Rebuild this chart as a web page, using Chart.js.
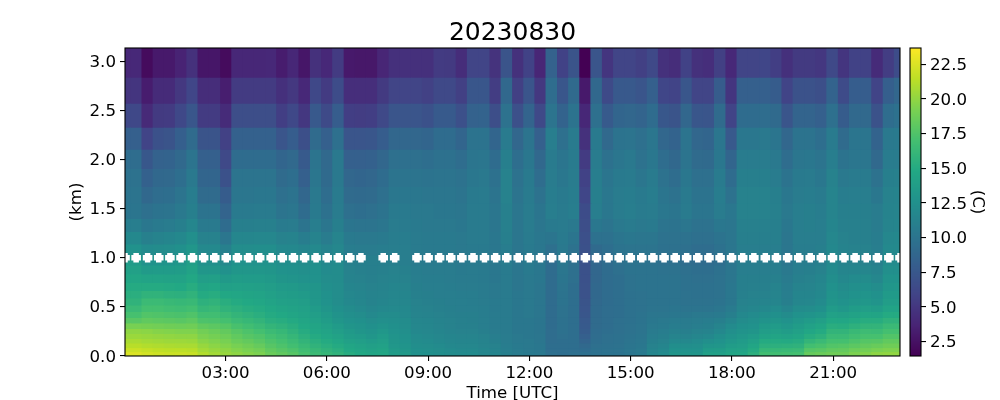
<!DOCTYPE html>
<html>
<head>
<meta charset="utf-8">
<script src="https://cdn.jsdelivr.net/npm/chart.js@4"></script>
<style>
body { margin: 0; background: #fff; }
canvas { display: block; }
</style>
</head>
<body>
<canvas id="myChart" width="1000" height="400"></canvas>
<script>
// time of each profile, hours UTC
const times = [
0.02,0.35,0.69,1.02,1.35,1.68,2.02,2.35,2.68,3.02,
3.35,3.68,4.01,4.35,4.68,5.01,5.34,5.68,6.01,6.34,
6.68,7.01,7.34,7.67,8.01,8.34,8.67,9.00,9.34,9.67,
10.00,10.33,10.67,11.00,11.33,11.67,12.00,12.33,12.66,13.00,
13.33,13.66,13.99,14.33,14.66,14.99,15.33,15.66,15.99,16.32,
16.66,16.99,17.32,17.65,17.99,18.32,18.65,18.99,19.32,19.65,
19.98,20.32,20.65,20.98,21.32,21.65,21.98,22.31,22.65,22.98];

// top edge of each height bin, km
const rowTops = [0.04,0.08,0.127,0.173,0.224,0.275,0.331,0.387,0.448,0.514,0.585,0.661,0.743,0.829,0.921,1.022,1.134,1.261,1.394,1.553,1.719,1.902,2.099,2.322,2.566,2.831,3.134];

// temperature (C), one array per height bin, lowest first
const row00 = [
22.5,22.5,22.2,22.0,21.9,21.9,21.8,21.1,20.6,20.2,
19.9,19.6,19.3,18.6,18.2,17.8,17.1,16.5,16.1,15.8,
15.2,14.8,14.5,14.6,13.6,13.3,12.6,12.5,12.3,12.1,
12.0,12.0,11.7,11.5,11.0,10.7,10.5,10.4,9.6,9.5,
9.6,9.6,9.8,9.9,9.9,10.2,10.5,11.6,12.0,13.0,
13.0,13.0,14.0,14.0,14.5,14.6,15.5,16.8,16.8,16.9,
17.0,18.4,18.6,18.8,18.8,19.3,19.5,19.9,20.0,20.0];
const row01 = [
21.9,21.9,21.7,21.5,21.4,21.4,21.3,20.6,20.2,19.9,
19.5,19.2,18.9,18.2,17.8,17.4,16.7,16.2,15.8,15.4,
14.8,14.5,14.2,14.4,13.4,13.1,12.5,12.4,12.2,12.0,
11.9,11.9,11.6,11.3,10.9,10.6,10.4,10.3,9.5,9.5,
9.5,9.3,9.7,9.8,9.9,10.2,10.4,11.4,11.8,12.7,
12.7,12.7,13.5,13.6,14.1,14.2,15.0,16.2,16.2,16.3,
16.4,17.7,17.9,18.2,18.3,18.7,18.9,19.2,19.4,19.4];
const row02 = [
21.3,21.3,21.1,21.0,20.9,20.8,20.8,20.2,19.8,19.5,
19.1,18.8,18.4,17.8,17.4,16.9,16.3,15.8,15.4,15.0,
14.5,14.2,13.9,14.1,13.2,12.9,12.3,12.2,12.0,11.8,
11.7,11.7,11.4,11.2,10.8,10.5,10.4,10.3,9.5,9.5,
9.5,9.0,9.6,9.7,9.8,10.1,10.3,11.2,11.5,12.3,
12.3,12.4,13.0,13.1,13.6,13.8,14.5,15.5,15.5,15.6,
15.7,16.9,17.2,17.6,17.7,18.0,18.3,18.5,18.8,18.8];
const row03 = [
20.8,20.8,20.6,20.5,20.4,20.4,20.3,19.7,19.4,19.1,
18.6,18.3,17.9,17.4,17.0,16.5,15.9,15.4,15.0,14.6,
14.0,13.8,13.5,13.8,13.0,12.7,12.1,12.0,11.8,11.6,
11.5,11.5,11.3,11.0,10.7,10.4,10.4,10.2,9.4,9.5,
9.5,8.6,9.5,9.6,9.7,10.0,10.2,11.0,11.2,11.8,
11.8,12.0,12.4,12.7,13.2,13.5,14.0,15.0,15.0,14.9,
15.1,16.0,16.4,17.0,17.0,17.4,17.7,17.8,18.2,18.2];
const row04 = [
20.3,20.3,20.2,20.1,20.0,19.9,19.9,19.3,19.0,18.7,
18.2,17.8,17.5,17.0,16.6,16.1,15.5,15.0,14.6,14.2,
13.6,13.4,13.1,13.5,12.9,12.6,12.0,11.9,11.7,11.5,
11.4,11.4,11.2,10.9,10.7,10.4,10.3,10.2,9.4,9.6,
9.5,8.2,9.4,9.6,9.7,9.9,10.1,10.8,11.0,11.4,
11.3,11.6,11.8,12.3,12.8,13.2,13.5,14.2,14.4,14.2,
14.5,15.2,15.6,16.4,16.4,16.8,17.1,17.1,17.6,17.6];
const row05 = [
19.9,19.9,19.8,19.6,19.5,19.4,19.4,18.9,18.6,18.3,
17.8,17.4,17.0,16.5,16.2,15.7,15.1,14.6,14.3,13.8,
13.3,13.0,12.8,13.2,12.7,12.4,11.8,11.7,11.5,11.3,
11.2,11.2,11.0,10.7,10.6,10.3,10.3,10.1,9.4,9.7,
9.5,7.9,9.3,9.5,9.6,9.8,10.0,10.6,10.8,11.1,
11.0,11.2,11.3,11.8,12.4,12.8,13.0,13.7,13.9,13.6,
14.0,14.6,15.0,15.9,15.9,16.3,16.6,16.5,17.0,17.0];
const row06 = [
19.1,19.1,19.0,18.9,18.8,18.7,18.8,18.2,18.0,17.7,
17.2,16.8,16.4,16.0,15.7,15.3,14.8,14.4,14.0,13.5,
13.0,12.8,12.5,12.8,12.5,12.2,11.7,11.6,11.4,11.2,
11.1,11.1,10.9,10.6,10.6,10.3,10.3,10.1,9.3,9.7,
9.5,7.7,9.2,9.4,9.6,9.8,10.0,10.4,10.5,10.8,
10.7,10.9,11.0,11.4,12.0,12.5,12.7,13.3,13.5,13.2,
13.6,14.1,14.5,15.3,15.2,15.6,15.9,15.9,16.4,16.4];
const row07 = [
17.9,17.9,18.2,18.1,18.0,17.9,18.1,17.4,17.3,17.0,
16.5,16.2,15.9,15.4,15.2,14.9,14.5,14.1,13.6,13.1,
12.7,12.5,12.2,12.4,12.3,12.1,11.6,11.5,11.3,11.2,
11.1,11.0,10.9,10.6,10.6,10.3,10.3,10.1,9.3,9.7,
9.5,7.6,9.2,9.4,9.6,9.7,9.9,10.3,10.4,10.6,
10.6,10.7,10.8,11.0,11.5,12.1,12.4,12.8,13.0,12.7,
13.2,13.5,13.9,14.7,14.6,14.9,15.2,15.2,15.7,15.7];
const row08 = [
17.1,17.1,17.6,17.5,17.4,17.3,17.5,16.8,16.8,16.4,
16.0,15.7,15.4,15.0,14.8,14.5,14.2,13.8,13.3,12.8,
12.4,12.2,11.9,12.1,12.1,11.9,11.4,11.3,11.2,11.1,
11.0,11.0,10.8,10.6,10.6,10.3,10.4,10.2,9.3,9.8,
9.5,7.4,9.1,9.4,9.5,9.7,9.9,10.2,10.2,10.3,
10.3,10.4,10.4,10.5,11.0,11.8,12.0,12.3,12.5,12.1,
12.7,12.9,13.2,14.1,13.9,14.2,14.5,14.4,15.0,15.0];
const row09 = [
16.4,16.4,17.0,17.0,16.8,16.7,16.9,16.1,16.3,15.8,
15.5,15.2,15.0,14.7,14.4,14.2,14.0,13.5,13.0,12.5,
12.1,11.9,11.6,11.8,11.9,11.8,11.3,11.2,11.1,11.0,
10.9,10.9,10.8,10.5,10.6,10.3,10.4,10.2,9.3,9.8,
9.5,7.3,9.1,9.4,9.5,9.7,9.8,10.0,10.0,10.1,
10.0,10.0,10.0,10.2,10.6,11.4,11.6,11.8,12.0,11.5,
12.1,12.2,12.5,13.5,13.2,13.6,13.8,13.6,14.3,14.3];
const row10 = [
15.8,15.8,16.5,16.5,16.3,16.2,16.3,15.6,15.8,15.3,
15.0,14.8,14.6,14.3,14.0,13.9,13.7,13.2,12.7,12.2,
11.8,11.6,11.3,11.5,11.7,11.6,11.2,11.1,11.0,10.9,
10.9,10.8,10.7,10.5,10.6,10.3,10.4,10.2,9.3,9.9,
9.5,7.2,9.0,9.3,9.5,9.7,9.8,9.9,9.9,9.9,
9.8,9.8,9.8,9.9,10.3,11.2,11.3,11.4,11.5,11.0,
11.6,11.7,12.0,13.0,12.7,13.0,13.2,12.9,13.7,13.7];
const row11 = [
15.4,15.4,15.8,15.8,15.6,15.5,15.8,15.0,15.2,14.7,
14.6,14.4,14.3,14.0,13.7,13.6,13.4,13.1,12.6,12.2,
11.7,11.5,11.3,11.4,11.6,11.5,11.1,11.0,10.9,10.9,
10.8,10.8,10.6,10.4,10.6,10.3,10.4,10.2,9.3,9.9,
9.5,7.1,8.9,9.3,9.5,9.7,9.8,9.9,9.9,9.9,
9.8,9.7,9.7,9.8,10.3,11.1,11.2,11.2,11.4,10.9,
11.5,11.5,11.8,12.8,12.4,12.7,12.9,12.6,13.4,13.4];
const row12 = [
15.0,15.0,15.0,15.0,14.9,14.8,15.2,14.4,14.6,14.0,
14.1,14.0,13.9,13.7,13.4,13.3,13.1,13.0,12.4,12.2,
11.5,11.4,11.2,11.3,11.5,11.4,11.0,10.9,10.9,10.8,
10.7,10.7,10.6,10.4,10.6,10.2,10.4,10.2,9.3,10.0,
9.5,7.1,8.9,9.3,9.5,9.8,9.9,9.9,9.9,9.9,
9.7,9.7,9.7,9.8,10.3,11.0,11.1,11.1,11.3,10.8,
11.3,11.4,11.7,12.6,12.1,12.4,12.5,12.2,13.1,13.2];
const row13 = [
14.5,14.5,14.3,14.3,14.2,14.2,14.7,13.8,13.9,13.3,
13.6,13.5,13.5,13.3,13.0,12.9,12.7,12.7,12.2,12.1,
11.3,11.2,11.1,11.2,11.3,11.2,10.9,10.8,10.8,10.7,
10.6,10.6,10.5,10.3,10.6,10.2,10.4,10.3,9.3,10.1,
9.6,7.0,8.8,9.3,9.5,9.8,9.9,9.9,9.9,9.9,
9.7,9.6,9.6,9.8,10.2,11.0,11.0,11.0,11.1,10.6,
11.1,11.2,11.5,12.3,11.8,12.0,12.1,11.7,12.8,12.8];
const row14 = [
14.0,14.0,13.4,13.5,13.5,13.6,14.2,13.1,13.1,12.6,
13.1,13.1,13.1,13.0,12.7,12.6,12.4,12.6,12.0,12.1,
11.2,11.1,11.0,11.1,11.2,11.1,10.8,10.7,10.7,10.7,
10.5,10.6,10.5,10.3,10.6,10.2,10.5,10.3,9.3,10.2,
9.6,7.0,8.8,9.3,9.6,9.9,9.9,9.9,9.8,9.8,
9.6,9.5,9.5,9.7,10.2,10.9,10.9,10.9,10.9,10.4,
10.9,11.0,11.2,12.0,11.5,11.5,11.6,11.3,12.4,12.4];
const row15 = [
13.5,13.5,12.7,12.8,12.9,13.1,13.8,12.6,12.5,11.9,
12.7,12.7,12.7,12.7,12.3,12.3,12.1,12.4,11.8,12.0,
11.1,11.0,11.0,11.0,11.0,10.9,10.6,10.5,10.6,10.6,
10.4,10.5,10.5,10.3,10.7,10.2,10.5,10.3,9.3,10.3,
9.6,7.0,8.8,9.3,9.7,9.9,9.9,9.8,9.6,9.6,
9.4,9.3,9.3,9.5,10.2,10.8,10.8,10.8,10.8,10.2,
10.8,10.8,11.0,11.8,11.3,11.2,11.2,11.0,12.0,12.0];
const row16 = [
12.7,12.7,12.0,12.1,12.2,12.5,13.1,11.9,11.9,11.1,
12.2,12.2,12.3,12.3,11.8,11.8,11.5,11.9,11.3,11.7,
10.8,10.7,10.7,10.8,10.9,10.9,10.6,10.5,10.5,10.5,
10.4,10.5,10.5,10.3,10.8,10.2,10.5,10.3,9.6,10.4,
9.8,7.0,9.1,9.5,9.9,10.0,10.0,10.0,9.7,9.7,
9.6,9.4,9.4,9.7,10.2,10.9,10.9,10.9,10.9,10.2,
10.8,10.8,11.0,11.8,11.3,11.2,11.2,10.9,11.9,11.9];
const row17 = [
11.8,11.8,11.1,11.3,11.5,11.8,12.4,11.2,11.2,10.2,
11.6,11.6,11.7,11.7,11.2,11.3,10.8,11.3,10.7,11.4,
10.5,10.4,10.4,10.5,10.8,10.8,10.6,10.5,10.5,10.5,
10.4,10.6,10.6,10.3,11.0,10.2,10.6,10.3,10.1,10.5,
10.1,6.9,9.7,9.7,10.1,10.3,10.2,10.2,9.8,9.8,
9.8,9.6,9.6,9.9,10.2,11.0,11.0,11.0,11.0,10.2,
10.9,10.9,10.9,11.7,11.2,11.1,11.1,10.8,11.7,11.8];
const row18 = [
10.9,10.9,10.3,10.5,10.7,11.0,11.6,10.5,10.5,9.3,
11.0,11.0,11.1,11.1,10.6,10.7,10.0,10.9,10.2,11.0,
10.1,10.0,10.0,10.2,10.7,10.6,10.5,10.4,10.4,10.4,
10.3,10.6,10.6,10.2,11.1,10.2,10.7,10.2,10.5,10.6,
10.4,6.7,10.3,10.0,10.4,10.6,10.4,10.5,10.0,9.9,
10.2,9.8,9.8,10.3,10.2,11.1,11.1,11.1,11.0,10.3,
10.9,11.0,10.9,11.5,11.1,11.1,11.1,10.7,11.4,11.5];
const row19 = [
10.1,10.1,9.6,9.9,10.0,10.4,11.0,9.9,9.9,8.6,
10.5,10.5,10.6,10.6,10.0,10.2,9.3,10.5,9.7,10.7,
9.6,9.5,9.6,9.9,10.5,10.5,10.4,10.4,10.3,10.3,
10.2,10.6,10.6,10.2,11.1,10.2,10.7,10.1,10.9,10.6,
10.9,6.6,10.9,10.3,10.7,10.9,10.6,10.7,10.3,10.1,
10.6,10.1,10.1,10.7,10.3,11.2,11.2,11.2,11.1,10.4,
10.9,11.0,10.8,11.4,11.0,11.0,11.0,10.7,11.3,11.4];
const row20 = [
10.0,10.0,8.9,9.4,9.5,10.0,10.8,9.2,9.2,7.9,
10.2,10.2,10.3,10.3,9.6,9.9,8.8,10.4,9.4,10.6,
9.2,9.1,9.2,9.6,10.3,10.3,10.3,10.2,10.2,10.2,
10.0,10.5,10.6,10.0,11.2,10.0,10.6,9.8,10.8,10.5,
10.8,6.1,11.0,10.3,10.7,10.8,10.5,10.8,10.1,9.8,
10.5,9.9,9.9,10.8,9.8,11.2,11.2,11.2,11.0,10.3,
10.7,10.8,10.6,11.4,10.8,10.9,10.9,10.3,11.2,11.3];
const row21 = [
9.8,9.8,8.3,8.9,9.0,9.5,10.4,8.7,8.7,7.0,
10.0,10.0,10.0,10.0,9.2,9.5,8.2,10.2,9.1,10.4,
8.8,8.7,8.8,9.3,10.0,10.0,10.0,9.9,10.0,10.0,
9.8,10.3,10.4,9.7,11.2,9.8,10.5,9.4,10.7,10.3,
10.7,5.8,10.9,10.1,10.5,10.6,10.2,10.6,9.8,9.4,
10.3,9.6,9.6,10.6,9.3,11.0,11.0,11.0,10.7,9.9,
10.5,10.6,10.3,11.2,10.4,10.6,10.6,9.8,11.0,11.1];
const row22 = [
9.4,9.4,7.5,8.4,8.5,9.0,10.0,8.2,8.2,6.3,
9.3,9.3,9.3,9.3,8.7,9.0,7.7,10.0,9.0,10.4,
8.2,8.2,8.3,8.8,9.6,9.6,9.6,9.5,9.7,9.7,
9.4,10.1,10.2,9.3,11.0,9.5,10.3,8.9,10.6,10.1,
10.6,5.3,10.7,9.7,10.2,10.4,9.8,10.3,9.4,8.9,
10.0,9.2,9.1,10.3,8.7,10.7,10.7,10.7,10.4,9.4,
10.2,10.3,10.0,10.9,9.9,10.2,10.2,9.0,10.7,10.7];
const row23 = [
8.2,8.2,5.9,7.0,7.2,8.1,9.2,7.2,7.2,5.7,
8.3,8.3,8.3,8.3,7.3,8.0,6.8,9.2,8.2,9.6,
7.3,7.3,7.4,8.0,8.8,8.8,8.8,8.7,9.3,9.3,
8.7,9.9,9.9,8.7,10.6,8.8,10.0,8.2,10.9,9.6,
10.6,4.6,10.5,9.0,9.9,10.0,9.6,10.2,8.8,8.5,
10.0,8.8,8.7,10.2,7.6,10.3,10.3,10.4,10.1,8.8,
9.9,9.9,9.5,10.6,9.2,10.1,10.1,8.5,10.4,10.5];
const row24 = [
6.2,6.2,4.1,5.2,5.3,6.2,7.4,5.3,5.3,4.2,
6.7,6.7,6.7,6.7,5.5,6.2,5.0,7.6,6.4,8.0,
5.5,5.4,5.5,6.3,7.3,7.3,7.3,7.0,7.7,7.7,
6.9,8.4,8.5,6.7,9.8,6.9,8.6,6.3,10.0,8.5,
9.9,3.9,9.6,7.7,8.7,8.8,8.6,9.3,7.5,7.2,
8.8,7.4,7.3,9.2,5.9,9.3,9.3,9.4,9.1,7.3,
8.6,8.6,8.2,9.6,7.9,9.0,9.0,7.1,9.4,9.7];
const row25 = [
4.9,4.9,3.2,4.2,4.2,5.1,6.1,4.3,4.3,3.3,
5.3,5.3,5.3,5.3,4.5,5.1,4.0,6.2,5.3,6.6,
4.4,4.4,4.4,5.2,6.0,6.0,6.0,5.7,6.3,6.3,
5.6,7.4,7.4,5.4,8.9,5.6,7.3,5.1,9.4,7.4,
9.1,3.0,8.9,6.4,7.6,7.6,7.3,8.2,6.1,5.9,
7.4,6.0,6.0,7.9,4.9,8.2,8.2,8.2,7.9,5.9,
7.1,7.1,6.8,8.5,6.5,8.0,8.0,5.9,8.1,8.8];
const row26 = [
4.0,4.0,2.1,3.0,3.0,3.6,4.6,2.8,2.8,2.1,
3.9,3.9,3.9,4.0,3.2,3.9,2.8,4.6,4.0,5.3,
3.0,2.9,2.9,3.8,4.5,4.5,4.5,4.5,5.3,5.2,
4.3,6.0,6.0,4.7,7.2,4.6,5.8,3.8,8.4,5.8,
7.2,1.5,7.3,4.9,6.0,6.0,5.6,6.3,4.6,4.3,
5.8,4.6,4.4,5.6,4.0,6.0,6.0,6.1,5.5,4.5,
5.2,5.2,5.0,6.3,4.9,5.8,5.8,4.2,5.4,6.6];

const rows = [row00,row01,row02,row03,row04,row05,row06,row07,row08,row09,row10,row11,row12,row13,
              row14,row15,row16,row17,row18,row19,row20,row21,row22,row23,row24,row25,row26];

// white markers at 1 km, two profiles have none
const dotTimes = times.filter((t, i) => i !== 22 && i !== 25);
const dotHeight = 1.0;

const tempMin = 1.47;
const tempMax = 23.68;
const viridis = ['#440154','#482475','#414487','#355f8d','#2a788e','#21918c','#22a884','#44bf70','#7ad151','#bddf26','#fde725'];

function tempColor(v) {
    let f = (v - tempMin) / (tempMax - tempMin);
    f = Math.max(0, Math.min(1, f)) * (viridis.length - 1);
    const i = Math.min(Math.floor(f), viridis.length - 2);
    const a = viridis[i], b = viridis[i + 1];
    const out = [1, 3, 5].map(p => {
        const ca = parseInt(a.substr(p, 2), 16), cb = parseInt(b.substr(p, 2), 16);
        return Math.round(ca + (cb - ca) * (f - i));
    });
    return 'rgb(' + out.join(',') + ')';
}

const datasets = rows.map((row, r) => ({
    type: 'bar',
    data: row.map((v, i) => ({ x: times[i], y: rowTops[r] })),
    backgroundColor: row.map(tempColor),
    borderWidth: 0,
    grouped: false,
    barPercentage: 1.1,
    categoryPercentage: 1,
    order: r
}));

datasets.push({
    type: 'line',
    data: dotTimes.map(t => ({ x: t, y: dotHeight })),
    showLine: false,
    pointStyle: 'cross',
    pointRadius: 4.8,
    pointBorderWidth: 5.5,
    pointBorderColor: '#fff',
    pointBackgroundColor: '#fff',
    order: -1
});

// frame round the plot, colour bar, and moves the bar's axis next to it
const framePlugin = {
    id: 'frame',
    afterLayout(chart) {
        const s = chart.scales.cb;
        s.left = 921;
        s.right = 1000;
    },
    beforeDatasetsDraw(chart) {
        const a = chart.chartArea;
        chart.ctx.fillStyle = '#3f4788';
        chart.ctx.fillRect(a.left, a.top, a.right - a.left, a.bottom - a.top);
    },
    afterDatasetsDraw(chart) {
        const ctx = chart.ctx, a = chart.chartArea, s = chart.scales.cb;
        ctx.save();
        for (let y = Math.floor(a.top); y < a.bottom; y++) {
            ctx.fillStyle = tempColor(s.getValueForPixel(y + 0.5));
            ctx.fillRect(910, y, 11, 1);
        }
        ctx.strokeStyle = '#000';
        ctx.lineWidth = 1.1;
        ctx.strokeRect(a.left, a.top, a.right - a.left, a.bottom - a.top);
        ctx.strokeRect(910, a.top, 11, a.bottom - a.top);
        ctx.restore();
    }
};

const font = { family: 'DejaVu Sans', size: 16.67 };
const tickGrid = { drawOnChartArea: false, drawTicks: true, tickLength: 5, color: '#000', lineWidth: 1.1 };

new Chart(document.getElementById('myChart'), {
    data: { datasets: datasets },
    plugins: [framePlugin],
    options: {
        responsive: false,
        animation: false,
        layout: { padding: 0 },
        plugins: {
            legend: { display: false },
            tooltip: { enabled: false },
            title: {
                display: true,
                text: '20230830',
                fullSize: false,
                color: '#000',
                font: { family: 'DejaVu Sans', size: 25, weight: 'normal', lineHeight: 1.2 },
                padding: { top: 18, bottom: 0 }
            }
        },
        scales: {
            x: {
                type: 'linear',
                offset: false,
                min: 0.02,
                max: 22.98,
                grid: Object.assign({ offset: false }, tickGrid),
                border: { display: false },
                afterFit: s => { s.height = 44; },
                ticks: {
                    stepSize: 3,
                    includeBounds: false,
                    autoSkip: false,
                    maxRotation: 0,
                    padding: 3,
                    color: '#000',
                    font: font,
                    callback: v => String(v).padStart(2, '0') + ':00'
                },
                title: {
                    display: true,
                    text: 'Time [UTC]',
                    color: '#000',
                    font: { family: 'DejaVu Sans', size: 16.67, lineHeight: 1 },
                    padding: { top: 0, bottom: -2 }
                }
            },
            y: {
                type: 'linear',
                min: 0,
                max: 3.134,
                grid: tickGrid,
                border: { display: false },
                afterFit: s => { s.width = 125; },
                ticks: {
                    stepSize: 0.5,
                    includeBounds: false,
                    padding: 4,
                    labelOffset: 1.2,
                    color: '#000',
                    font: font,
                    callback: v => v.toFixed(1)
                },
                title: {
                    display: true,
                    text: '(km)',
                    color: '#000',
                    font: { family: 'DejaVu Sans', size: 16.67, lineHeight: 1 },
                    padding: { top: 68, bottom: 0 }
                }
            },
            cb: {
                type: 'linear',
                position: 'right',
                min: tempMin,
                max: tempMax,
                grid: tickGrid,
                border: { display: false },
                afterFit: s => { s.width = 100; },
                ticks: {
                    stepSize: 2.5,
                    includeBounds: false,
                    padding: 4,
                    labelOffset: 1.2,
                    color: '#000',
                    font: font,
                    callback: v => v.toFixed(1)
                },
                title: {
                    display: true,
                    text: '(C)',
                    color: '#000',
                    font: { family: 'DejaVu Sans', size: 16.67, lineHeight: 1 },
                    padding: { top: 14, bottom: 0 }
                }
            }
        }
    }
});
</script>
</body>
</html>
